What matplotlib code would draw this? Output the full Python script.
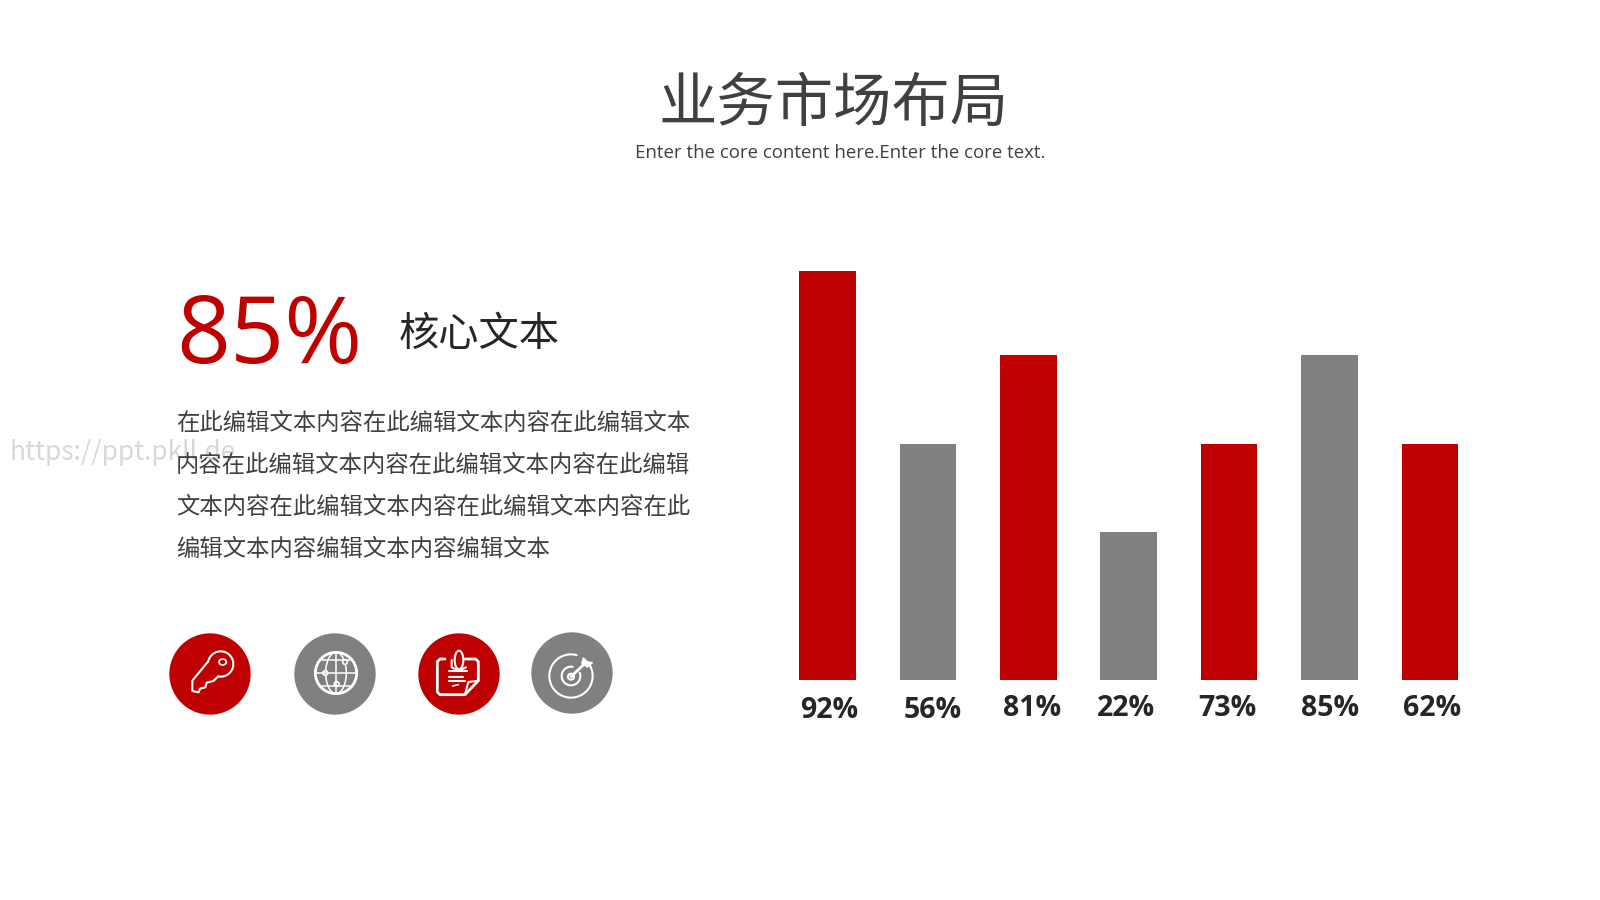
import numpy as np
import matplotlib
matplotlib.use("Agg")
import matplotlib.pyplot as plt
from matplotlib.patches import Circle, Ellipse, Polygon

plt.rcParams['font.family'] = ['Noto Sans CJK SC', 'DejaVu Sans']

RED = "#BE0000"
GREY = "#808080"
DARK = "#404040"

# bar heights (arbitrary units, the slide has no axis)
bar_heights = [409, 236, 325, 148, 236, 325, 236]
bar_colors = [RED, GREY, RED, GREY, RED, GREY, RED]
bar_labels = ["92%", "56%", "81%", "22%", "73%", "85%", "62%"]
label_x = [829, 933, 1032, 1126, 1227, 1330, 1432]
label_y = [710, 710, 708, 708, 708, 708, 708]

title = "业务市场布局"
subtitle = "Enter the core content here.Enter the core text."
big_number = "85%"
core_text = "核心文本"
body_lines = ["在此编辑文本内容在此编辑文本内容在此编辑文本",
              "内容在此编辑文本内容在此编辑文本内容在此编辑",
              "文本内容在此编辑文本内容在此编辑文本内容在此",
              "编辑文本内容编辑文本内容编辑文本"]
body_y = [423, 465, 507, 549]
watermark = "https://ppt.pkll.de"

W, H = 1600, 900
fig = plt.figure(figsize=(16, 9), dpi=100, facecolor="white")

# bars sit in their own axes, baseline at y=680 on the slide
x0, x1, y0, y1 = 799, 1459, 680, 260
ax = fig.add_axes([x0 / W, 1 - y0 / H, (x1 - x0) / W, (y0 - y1) / H])
xs = np.arange(len(bar_heights))
step = 100.4
width = 56.5
ax.bar(xs * step + width / 2 + 0.2, bar_heights, width=width, color=bar_colors)
ax.set_xlim(0, x1 - x0)
ax.set_ylim(0, y0 - y1)
ax.axis("off")

# overlay in slide pixels for text and icons
ov = fig.add_axes([0, 0, 1, 1], zorder=5)
ov.set_xlim(0, W)
ov.set_ylim(H, 0)
ov.axis("off")
ov.patch.set_alpha(0)

ov.text(834, 105, title, fontsize=42, color=DARK, ha="center", va="center", fontweight="light")
ov.text(840, 153, subtitle, fontsize=13.4, color=DARK, ha="center", va="center",
        family=["Open Sans", "DejaVu Sans"])
ov.text(176, 338, big_number, fontsize=68, color=RED, ha="left", va="center",
        family=["Open Sans", "DejaVu Sans"])
ov.text(399, 334, core_text, fontsize=29, color="#262626", ha="left", va="center", fontweight="light")
for line, y in zip(body_lines, body_y):
    ov.text(176, y, line, fontsize=16.8, color=DARK, ha="left", va="center", fontweight="light")
ov.text(10, 452, watermark, fontsize=19, color="#D8D8D8", ha="left", va="center", zorder=0)
for s, x, y in zip(bar_labels, label_x, label_y):
    ov.text(x, y, s, fontsize=20.5, color="#262626", ha="center", va="center", fontweight="bold",
            family=["Open Sans", "DejaVu Sans"])


# icon outlines are given in crop coordinates, 3x around (150,610)
def p(x, y):
    return 150 + x / 3, 610 + y / 3


def outline(pts, lw=1.5):
    xy = np.array([p(*q) for q in pts])
    ov.plot(xy[:, 0], xy[:, 1], color="white", lw=lw, solid_capstyle="round", solid_joinstyle="round")


def arc(x, y, r, t1, t2, lw=1.5):
    t = np.radians(np.linspace(t1, t2, 60))
    outline(np.c_[x + r * np.cos(t), y + r * np.sin(t)], lw=lw)


def ring(x, y, r, lw=1.5, fc="none"):
    ov.add_patch(Circle(p(x, y), r / 3, fc=fc, ec="white", lw=lw))


for (cx, cy), c in zip([(180, 192), (555, 192), (927, 192), (1266, 189)], [RED, GREY, RED, GREY]):
    ov.add_patch(Circle(p(cx, cy), 122 / 3, fc=c, ec="none"))

# key
arc(212, 162, 38, 100, -170)
outline([(174, 155), (127, 212), (127, 243), (146, 247), (150, 236), (166, 232), (170, 218),
         (190, 213), (205, 199)])
ov.add_patch(Ellipse(p(218, 156), 22 / 3, 18 / 3, fc="none", ec="white", lw=1.2))

# globe
ring(558, 189, 62, lw=2)
ov.add_patch(Ellipse(p(558, 189), 62 / 3, 124 / 3, fc="none", ec="white", lw=1.1))
outline([(558, 127), (558, 251)], lw=1.1)
outline([(496, 189), (620, 189)], lw=1.1)
outline([(515, 150), (601, 150)], lw=1.1)
outline([(515, 228), (601, 228)], lw=1.1)
for q in [(526, 189), (585, 156), (560, 222)]:
    ring(*q, 7, lw=1.2, fc=GREY)

# note with paper clip
outline([(885, 147), (870, 147), (862, 155), (862, 246), (870, 254), (945, 254), (985, 212),
         (985, 155), (977, 147), (945, 147)], lw=2)
outline([(985, 212), (955, 216), (945, 254)], lw=1.5)
ov.add_patch(Ellipse(p(927, 150), 26 / 3, 56 / 3, fc=RED, ec="white", lw=1.5))
outline([(905, 150), (905, 172), (925, 182), (948, 172)], lw=1.5)
outline([(898, 182), (950, 182)], lw=1.5)
outline([(898, 200), (940, 200)], lw=1.5)
outline([(898, 213), (945, 213)], lw=1.5)
outline([(908, 228), (925, 224)], lw=1.2)

# target
arc(1263, 198, 65, -40, 285)
arc(1263, 198, 28, -20, 280)
ring(1263, 200, 9)
outline([(1263, 200), (1305, 160)], lw=2)
ov.add_patch(Polygon([p(1295, 160), p(1300, 143), p(1312, 155), p(1328, 158), p(1312, 172)],
                     closed=True, fc="white", ec="white", lw=0.8))

fig.savefig("out.png", dpi=100)
